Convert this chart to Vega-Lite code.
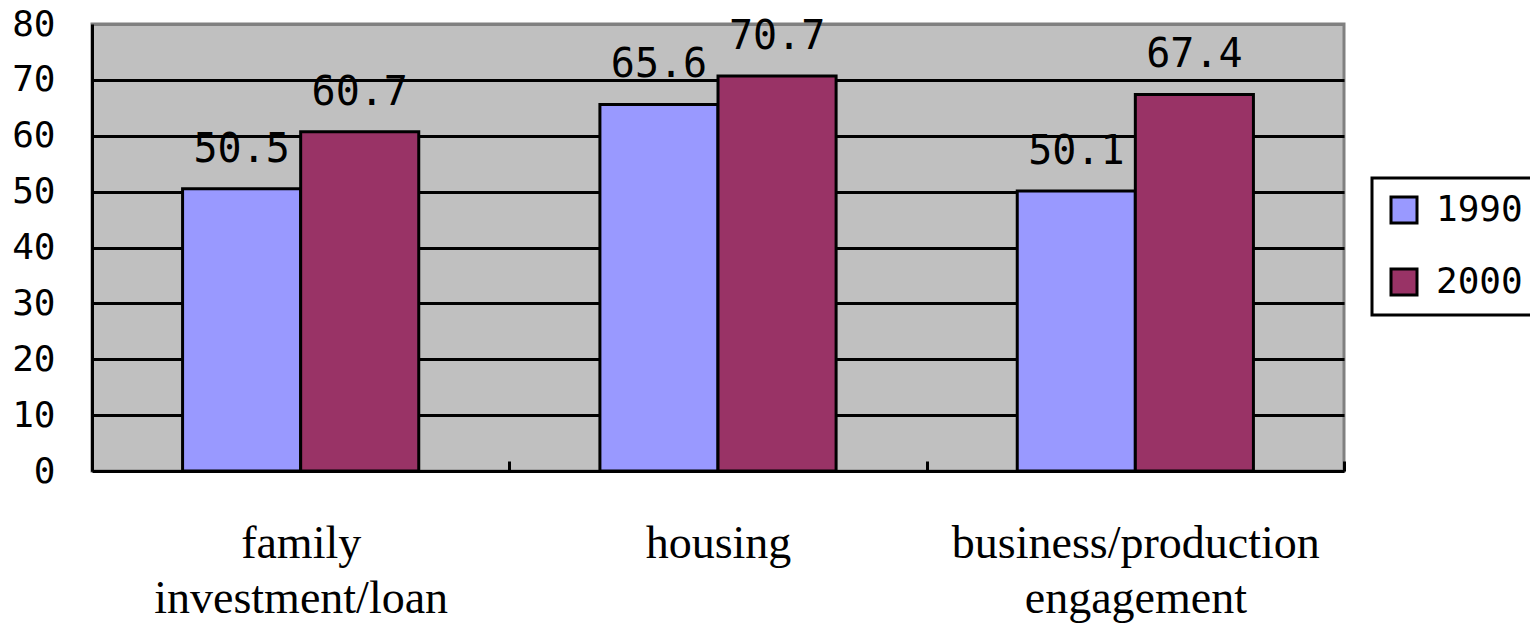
{
  "$schema": "https://vega.github.io/schema/vega-lite/v6.json",
  "width": 1252,
  "height": 447,
  "autosize": {"type": "none"},
  "padding": {"left": 92, "top": 24, "right": 186, "bottom": 156},
  "background": "white",
  "config": {
    "view": {"fill": "#C0C0C0", "stroke": "#808080", "strokeWidth": 3},
    "legend": {"strokeColor": "black", "strokeWidth": 3, "fillColor": "white"}
  },
  "data": {
    "values": [
      {"category": "family investment/loan", "year": "1990", "value": 50.5},
      {"category": "family investment/loan", "year": "2000", "value": 60.7},
      {"category": "housing", "year": "1990", "value": 65.6},
      {"category": "housing", "year": "2000", "value": 70.7},
      {"category": "business/production engagement", "year": "1990", "value": 50.1},
      {"category": "business/production engagement", "year": "2000", "value": 67.4}
    ]
  },
  "encoding": {
    "x": {
      "field": "category",
      "type": "nominal",
      "sort": ["family investment/loan", "housing", "business/production engagement"],
      "scale": {"paddingInner": 0, "paddingOuter": 0},
      "axis": {
        "title": null,
        "offset": -10,
        "labelAngle": 0,
        "labelFont": "Liberation Serif",
        "labelFontSize": 46,
        "labelLineHeight": 55,
        "labelColor": "black",
        "labelBaseline": "top",
        "labelPadding": 50,
        "labelLimit": 0,
        "labelExpr": "datum.value == 'family investment/loan' ? ['family', 'investment/loan'] : datum.value == 'business/production engagement' ? ['business/production', 'engagement'] : datum.value",
        "ticks": true,
        "tickBand": "extent",
        "tickSize": 10,
        "tickColor": "black",
        "tickWidth": 3,
        "domain": false,
        "grid": false
      }
    },
    "xOffset": {
      "field": "year",
      "type": "nominal",
      "scale": {"paddingInner": 0, "paddingOuter": 0.767}
    },
    "y": {
      "field": "value",
      "type": "quantitative",
      "scale": {"domain": [0, 80], "nice": false},
      "axis": {
        "title": null,
        "values": [0, 10, 20, 30, 40, 50, 60, 70, 80],
        "ticks": false,
        "labelPadding": 37,
        "labelFont": "DejaVu Sans Mono",
        "labelFontSize": 36,
        "labelColor": "black",
        "domainColor": "black",
        "domainWidth": 3,
        "grid": true,
        "gridColor": {"condition": {"test": "datum.value == 80", "value": "#808080"}, "value": "black"},
        "gridWidth": 3,
        "gridOpacity": 1
      }
    }
  },
  "layer": [
    {
      "mark": {"type": "bar", "stroke": "black", "strokeWidth": 3, "opacity": 1},
      "encoding": {
        "color": {
          "field": "year",
          "type": "nominal",
          "scale": {"domain": ["1990", "2000"], "range": ["#9999FF", "#993366"]},
          "legend": {
            "title": null,
            "orient": "none",
            "legendX": 1280,
            "legendY": 154,
            "symbolType": "square",
            "symbolSize": 676,
            "symbolStrokeColor": "black",
            "symbolStrokeWidth": 3,
            "symbolOpacity": 1,
            "labelFont": "DejaVu Sans Mono",
            "labelFontSize": 36,
            "labelColor": "black",
            "labelOffset": 14,
            "padding": 14,
            "rowPadding": 34
          }
        }
      }
    },
    {
      "mark": {
        "type": "text",
        "baseline": "alphabetic",
        "dy": -27,
        "font": "DejaVu Sans Mono",
        "fontSize": 40,
        "color": "black"
      },
      "encoding": {
        "text": {"field": "value", "type": "quantitative", "format": ".1f"}
      }
    }
  ]
}
